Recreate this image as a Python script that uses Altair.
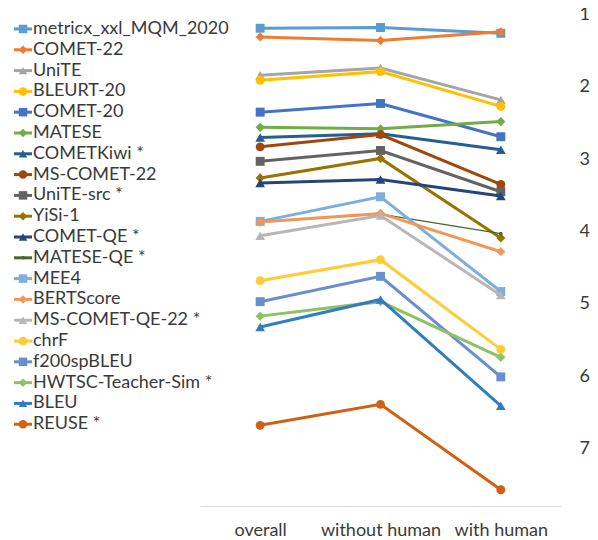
import altair as alt
import pandas as pd

categories = ["overall", "without human", "with human"]

series = [
    "metricx_xxl_MQM_2020", "COMET-22", "UniTE", "BLEURT-20", "COMET-20",
    "MATESE", "COMETKiwi *", "MS-COMET-22", "UniTE-src *", "YiSi-1",
    "COMET-QE *", "MATESE-QE *", "MEE4", "BERTScore", "MS-COMET-QE-22 *",
    "chrF", "f200spBLEU", "HWTSC-Teacher-Sim *", "BLEU", "REUSE *",
]

overall = [1.19, 1.31, 1.84, 1.91, 2.35, 2.56, 2.70, 2.83, 3.03, 3.26,
           3.33, 3.87, 3.86, 3.87, 4.06, 4.68, 4.97, 5.17, 5.32, 6.68]
without_human = [1.18, 1.36, 1.74, 1.79, 2.23, 2.58, 2.65, 2.66, 2.88, 2.99,
                 3.28, 3.76, 3.52, 3.75, 3.78, 4.39, 4.62, 4.97, 4.94, 6.39]
with_human = [1.26, 1.24, 2.18, 2.27, 2.69, 2.48, 2.87, 3.35, 3.45, 4.09,
              3.51, 4.03, 4.83, 4.28, 4.88, 5.63, 6.01, 5.74, 6.41, 7.57]

colors = ["#5B9BD5", "#ED7D31", "#A5A5A5", "#FFC000", "#4472C4",
          "#70AD47", "#255E91", "#9E480E", "#636363", "#997300",
          "#264478", "#43682B", "#7CAFDD", "#F1975A", "#B7B7B7",
          "#FFCD33", "#698ED0", "#8CC168", "#327DC2", "#D26012"]
shapes = ["square", "diamond", "triangle-up", "circle", "square",
          "diamond", "triangle-up", "circle", "square", "diamond",
          "triangle-up", "circle", "square", "diamond", "triangle-up",
          "circle", "square", "diamond", "triangle-up", "circle"]

rows = []
for i, s in enumerate(series):
    for c, v in zip(categories, [overall[i], without_human[i], with_human[i]]):
        rows.append({"series": s, "idx": i, "category": c, "rank": v})
df = pd.DataFrame(rows)
leg_df = pd.DataFrame({"series": series, "idx": list(range(len(series)))})

FONT = "Lato"
TXT = "#3a3a3a"
H = 497

color_scale = alt.Scale(domain=series, range=colors)
shape_scale = alt.Scale(domain=series, range=shapes)

x_enc = alt.X("category:N", sort=categories,
              scale=alt.Scale(type="point", padding=0.5),
              axis=alt.Axis(title=None, labelAngle=0, ticks=False, grid=False,
                            domainColor="#D9D9D9", labelFont=FONT, labelFontSize=18,
                            labelColor=TXT, labelPadding=15))
y_enc = alt.Y("rank:Q",
              scale=alt.Scale(domain=[0.924, 7.795], reverse=True, nice=False, zero=False),
              axis=alt.Axis(title=None, orient="right", values=[1, 2, 3, 4, 5, 6, 7],
                            ticks=False, domain=False, grid=False, labelFont=FONT,
                            labelFontSize=18, labelColor=TXT, labelPadding=18,
                            labelAlign="left"))

size_by_shape = {"square": 80, "diamond": 85, "triangle-up": 95, "circle": 80}

layers = []
for i, s in enumerate(series):
    thin = s == "MATESE-QE *"
    sw = 1.3 if thin else 3
    msize = 14 if thin else size_by_shape[shapes[i]]
    base = alt.Chart(df).transform_filter(alt.datum.series == s)
    line = base.mark_line(strokeWidth=sw).encode(
        x=x_enc, y=y_enc,
        color=alt.Color("series:N", scale=color_scale, legend=None))
    pts = base.mark_point(filled=True, size=msize, opacity=1).encode(
        x=x_enc, y=y_enc,
        color=alt.Color("series:N", scale=color_scale, legend=None),
        shape=alt.Shape("series:N", scale=shape_scale, legend=None))
    layers += [line, pts]

main = alt.layer(*layers).properties(width=361, height=H)

# legend panel
leg_y = alt.Y("idx:Q", scale=alt.Scale(domain=[-0.96, 22.93], reverse=True, nice=False, zero=False),
              axis=None)
leg_base = alt.Chart(leg_df)
leg_rule = leg_base.mark_rule(strokeWidth=3).encode(
    x=alt.value(6), x2=alt.value(24), y=leg_y,
    color=alt.Color("series:N", scale=color_scale, legend=None),
    strokeWidth=alt.condition(alt.datum.series == "MATESE-QE *", alt.value(1.3), alt.value(3)))
leg_pts = leg_base.mark_point(filled=True, opacity=1).encode(
    x=alt.value(15), y=leg_y,
    color=alt.Color("series:N", scale=color_scale, legend=None),
    shape=alt.Shape("series:N", scale=shape_scale, legend=None),
    size=alt.condition(alt.datum.series == "MATESE-QE *", alt.value(12), alt.value(72)))
leg_txt = leg_base.mark_text(align="left", baseline="middle", font=FONT, fontSize=18,
                             color=TXT).encode(
    x=alt.value(25), y=leg_y, text="series:N")
legend = alt.layer(leg_rule, leg_pts, leg_txt).properties(width=192, height=H)

chart = alt.hconcat(legend, main, spacing=0, bounds="flush").properties(
    padding={"left": 0, "top": -3, "right": 0, "bottom": 0}
).configure_view(stroke=None).resolve_scale(color="shared", shape="shared")

chart.save("out.html", embed_options={"renderer": "svg", "actions": False})
